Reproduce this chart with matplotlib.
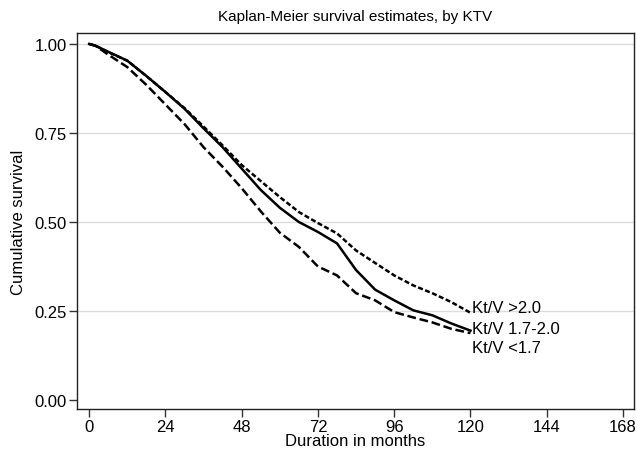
import matplotlib
matplotlib.use("Agg")
import matplotlib.pyplot as plt

plt.rcParams['font.family'] = ['Liberation Sans', 'DejaVu Sans']

months = [0, 2, 6, 12, 18, 24, 30, 36, 42, 48, 54, 60, 66, 72, 78, 84,
          90, 96, 102, 108, 114, 120]

# survival, per KTV group
surv_high = [1.0, 0.995, 0.977, 0.953, 0.91, 0.865, 0.82, 0.768, 0.715,
             0.66, 0.615, 0.57, 0.528, 0.497, 0.468, 0.42, 0.385, 0.35,
             0.322, 0.30, 0.275, 0.245]
surv_mid = [1.0, 0.995, 0.978, 0.953, 0.91, 0.865, 0.818, 0.763, 0.71,
            0.65, 0.59, 0.54, 0.50, 0.472, 0.44, 0.365, 0.31, 0.28,
            0.252, 0.238, 0.215, 0.195]
surv_low = [1.0, 0.995, 0.97, 0.935, 0.885, 0.83, 0.775, 0.71, 0.655,
            0.595, 0.53, 0.47, 0.43, 0.375, 0.35, 0.30, 0.28, 0.247,
            0.232, 0.218, 0.20, 0.188]

labels = ["Kt/V >2.0", "Kt/V 1.7-2.0", "Kt/V <1.7"]
label_y = [0.259, 0.20, 0.148]

xticks = [0, 24, 48, 72, 96, 120, 144, 168]
yticks = [0.0, 0.25, 0.5, 0.75, 1.0]

fig = plt.figure(figsize=(6.37, 4.52), dpi=100)
ax = fig.add_axes([0.121, 0.093, 0.874, 0.832])

ax.plot(months, surv_high, color="black", lw=1.8, ls=(0, (2, 1)))
ax.plot(months, surv_mid, color="black", lw=1.8, ls="-")
ax.plot(months, surv_low, color="black", lw=1.8, ls=(0, (3.5, 1.5)))

for txt, yy in zip(labels, label_y):
    ax.text(120.5, yy, txt, ha="left", va="center", fontsize=12)

ax.set_xlim(-3.8, 171.4)
ax.set_ylim(-0.025, 1.031)
ax.set_xticks(xticks)
ax.set_yticks(yticks)
ax.set_yticklabels(["%.2f" % v for v in yticks])
ax.tick_params(labelsize=12, direction="out", length=5.5, width=1,
               color="#333333", pad=2)

for v in yticks[1:]:
    ax.axhline(v, color="#dcdcdc", lw=1, zorder=0)

for s in ax.spines.values():
    s.set_color("#222222")
    s.set_linewidth(1)

ax.set_xlabel("Duration in months", fontsize=12, labelpad=-1)
ax.set_ylabel("Cumulative survival", fontsize=12, labelpad=6)
ax.set_title("Kaplan-Meier survival estimates, by KTV", fontsize=11,
             pad=9)

fig.savefig("out.png", dpi=100)
